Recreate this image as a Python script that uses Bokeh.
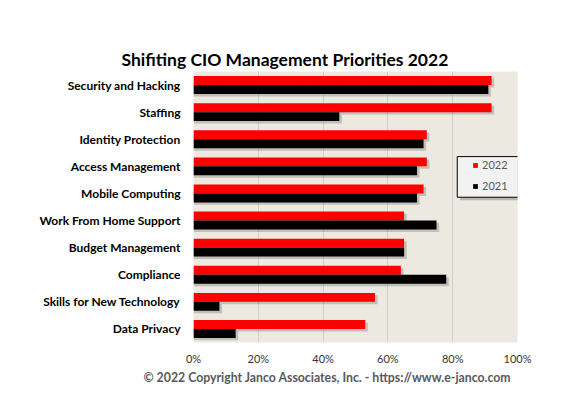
from bokeh.plotting import figure
from bokeh.models import (FactorRange, Range1d, ColumnDataSource, FixedTicker,
                          PrintfTickFormatter, Legend, LegendItem, Title, BoxAnnotation)
from bokeh.transform import dodge
from bokeh.embed import file_html
from bokeh.resources import INLINE

categories = ["Security and Hacking", "Staffing", "Identity Protection",
              "Access Management", "Mobile Computing", "Work From Home Support",
              "Budget Management", "Compliance", "Skills for New Technology",
              "Data Privacy"]
values_2022 = [92, 92, 72, 72, 71, 65, 65, 64, 56, 53]
values_2021 = [91, 45, 71, 69, 69, 75, 65, 78, 8, 13]
series_names = ["2022", "2021"]
x_ticks = [0, 20, 40, 60, 80, 100]

src = ColumnDataSource(dict(cat=categories, v2022=values_2022, v2021=values_2021))

p = figure(width=564, height=401,
           y_range=FactorRange(factors=list(reversed(categories))),
           x_range=Range1d(0, 100),
           output_backend="svg", toolbar_location=None,
           min_border_left=193, min_border_right=47,
           min_border_top=71, min_border_bottom=59)

p.title = None
p.background_fill_color = "#ECEAE0"
p.border_fill_color = "white"
p.outline_line_color = None

FONT = "Lato"

# visible title first (outer), then an invisible spacer (nearest the plot area)
p.add_layout(Title(text="Shifiting CIO Management Priorities 2022",
                   align="left", offset=-72, vertical_align="top",
                   text_font=FONT, text_font_style="bold", text_font_size="17.5px",
                   text_color="black", standoff=0), "above")
p.add_layout(Title(text=".", text_font_size="10px", text_alpha=0, standoff=16), "above")

# shadows
H = 0.33
D = 0.165
p.hbar(y=dodge("cat", D - 0.09, range=p.y_range), left=0, right=dodge("v2022", 0.8),
       height=H, fill_color="black", fill_alpha=0.18, line_color=None, source=src)
p.hbar(y=dodge("cat", -D - 0.09, range=p.y_range), left=0, right=dodge("v2021", 0.8),
       height=H, fill_color="black", fill_alpha=0.18, line_color=None, source=src)

r22 = p.hbar(y=dodge("cat", D, range=p.y_range), left=0, right="v2022", height=H,
             fill_color="#FF0000", line_color=None, source=src)
r21 = p.hbar(y=dodge("cat", -D, range=p.y_range), left=0, right="v2021", height=H,
             fill_color="#000000", line_color=None, source=src)

# axes
p.xaxis.ticker = FixedTicker(ticks=x_ticks)
p.xaxis.formatter = PrintfTickFormatter(format="%d%%")
p.xaxis.axis_line_color = None
p.xaxis.major_tick_line_color = None
p.xaxis.minor_tick_line_color = None
p.xaxis.major_label_text_font = FONT
p.xaxis.major_label_text_font_size = "11px"
p.xaxis.major_label_text_color = "#333333"
p.xaxis.major_label_standoff = 3

p.yaxis.axis_line_color = None
p.yaxis.major_tick_line_color = None
p.yaxis.minor_tick_line_color = None
p.yaxis.major_label_text_font = FONT
p.yaxis.major_label_text_font_style = "bold"
p.yaxis.major_label_text_font_size = "12px"
p.yaxis.major_label_text_color = "black"
p.yaxis.major_label_standoff = 7

p.ygrid.grid_line_color = None
p.xgrid.grid_line_color = "#CFCFCF"

# legend frame (data units along the axes)
sh = BoxAnnotation(left=82.3, right=102.6, top=6.75, bottom=5.25,
                   fill_color="black", fill_alpha=0.22, line_alpha=0,
                   level="overlay")
bx = BoxAnnotation(left=81.4, right=101.7, top=6.86, bottom=5.36,
                   fill_color="#F2F2F2", fill_alpha=1, line_color="black",
                   line_alpha=1, line_width=1, level="overlay")
p.add_layout(sh)
p.add_layout(bx)

legend = Legend(items=[LegendItem(label=series_names[0], renderers=[r22]),
                       LegendItem(label=series_names[1], renderers=[r21])],
                location=(279, 150), margin=0, padding=0, spacing=8,
                glyph_width=6, glyph_height=6, label_height=12, label_standoff=4,
                label_text_font=FONT, label_text_font_size="11px",
                label_text_color="#595959",
                border_line_color=None, background_fill_alpha=0)
p.add_layout(legend)

p.add_layout(Title(text="\u00a9 2022 Copyright Janco  Associates, Inc. - https://www.e-janco.com",
                   align="left", vertical_align="top", text_font=FONT, text_font_style="bold",
                   text_font_size="12.3px", text_color="#595959", offset=-50,
                   standoff=5), "below")

open("out.html", "w").write(file_html(p, INLINE))
